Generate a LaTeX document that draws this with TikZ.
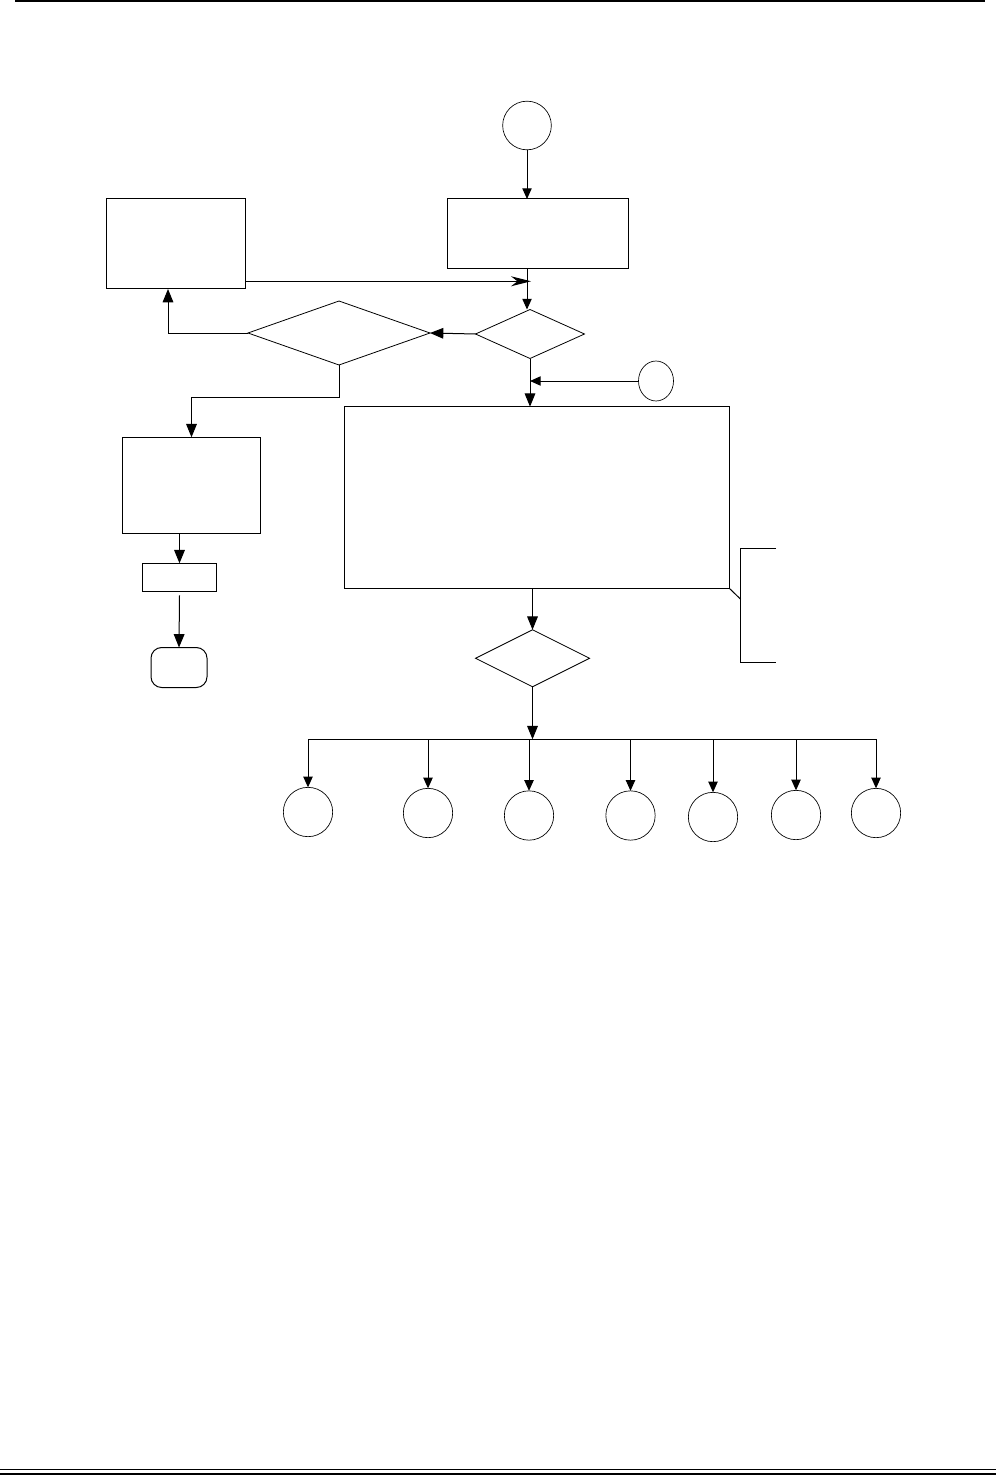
\documentclass[tikz,border=0pt]{standalone}
\usetikzlibrary{arrows.meta,shapes.geometric,calc}

\begin{document}
\begin{tikzpicture}[
            x=0.75pt, y=-0.75pt,
        mybox/.style={
            rectangle,
            draw=black,
            line width=0.75pt,
            inner sep=0pt,
            outer sep=0pt},
        mydiamond/.style={
            diamond,
            draw=black,
            line width=0.6pt,
            inner sep=0pt,
            outer sep=0pt},
        mycircle/.style={
            circle,
            draw=black,
            line width=0.5pt,
            inner sep=0pt,
            outer sep=0pt,
            minimum size=37pt},
        myoval/.style={
            ellipse,
            draw=black,
            line width=0.5pt,
            inner sep=0pt,
            outer sep=0pt},
        myarrow/.style={-{Triangle[length=8pt,width=7pt]},line width=0.75pt},
        bigarrow/.style={-{Triangle[length=10pt,width=8pt]},line width=0.75pt},
        joinarrow/.style={-{Stealth[length=15pt,width=7.5pt]},line width=0.75pt}
        ]
        \useasboundingbox (0,0) rectangle (996,1476);

        % page rules
        \draw[line width=1.5pt] (15,1) -- (985,1);
        \draw[line width=1.2pt] (0,1469.3) -- (996,1469.3);
        \draw[line width=1.5pt] (0,1473.7) -- (996,1473.7);

        \node[mycircle,minimum size=36.5pt] (start) at (527,125.5) {};
        \node[mybox,minimum width=135.75pt,minimum height=52.5pt] (init) at (538,234) {};
        \node[mybox,minimum width=104.25pt,minimum height=67.5pt] (retry) at (176,244) {};
        \node[mydiamond,minimum width=81.75pt,minimum height=36.75pt] (chk) at (530,334) {};
        \node[mydiamond,minimum width=136.5pt,minimum height=48pt] (chk2) at (339,333) {};
        \node[mybox,minimum width=103.8pt,minimum height=72pt] (err) at (191.5,485.3) {};
        \node[mybox,minimum width=55.8pt,minimum height=21pt] (stopbox) at (179.5,577.3) {};
        \node[mybox,rounded corners=8pt,minimum width=42pt,minimum height=30pt] (finish) at (179,667.5) {};
        \node[myoval,minimum width=26.25pt,minimum height=30pt] (conn) at (656,381) {};
        \node[mybox,minimum width=288.75pt,minimum height=136.2pt] (main) at (536.8,497.5) {};
        \node[mydiamond,minimum width=85.5pt,minimum height=42.75pt] (sel) at (532.5,658.3) {};

        \foreach \i/\x/\y in {1/308/812, 2/428/813, 3/529/815.5, 4/630.5/815.5,
                              5/713/817, 6/796/815, 7/876/813}
            \node[mycircle] (o\i) at (\x,\y) {};

        \coordinate (join) at (531,281.3);
        \coordinate (bus) at (531,739.3);
        \coordinate (brtop) at (776,548.3);
        \coordinate (brmid) at (740.7,599.3);
        \coordinate (brbot) at (776,662.3);

        \draw[myarrow] (start.south) -- (start.south |- init.north);
        \draw[myarrow] (start.south |- init.south) -- (start.south |- chk.north);
        \draw[joinarrow] (retry.east |- join) -- (join);
        \draw[bigarrow] (chk.west) -- (chk2.east);
        \draw[bigarrow] (chk2.west) -| ($(retry.south)+(-8,0)$);
        \draw[bigarrow] (chk2.south) -- ++(0,32) -| (err.north);
        \draw[bigarrow] (chk.south) -- (chk.south |- main.north);
        \draw[myarrow] (conn.west) -- (chk.south |- conn.west);
        \draw[bigarrow] (sel.north |- main.south) -- (sel.north);
        \draw[bigarrow] (err.south -| stopbox.north) -- (stopbox.north);
        \draw[bigarrow] ($(stopbox.south)+(0,4)$) -- (finish.north);

        % bracket at the main box
        \draw[line width=0.75pt] (main.south east) -- (brmid);
        \draw[line width=0.75pt] (brtop) -| (brmid) |- (brbot);

        % fan out to the cases
        \draw[bigarrow] (sel.south) -- (sel.south |- bus);
        \draw[line width=0.75pt] (o1.north |- bus) -- (o7.north |- bus);
        \foreach \i in {1,...,7}
            \draw[myarrow] (o\i.north |- bus) -- (o\i.north);
\end{tikzpicture}
\end{document}
